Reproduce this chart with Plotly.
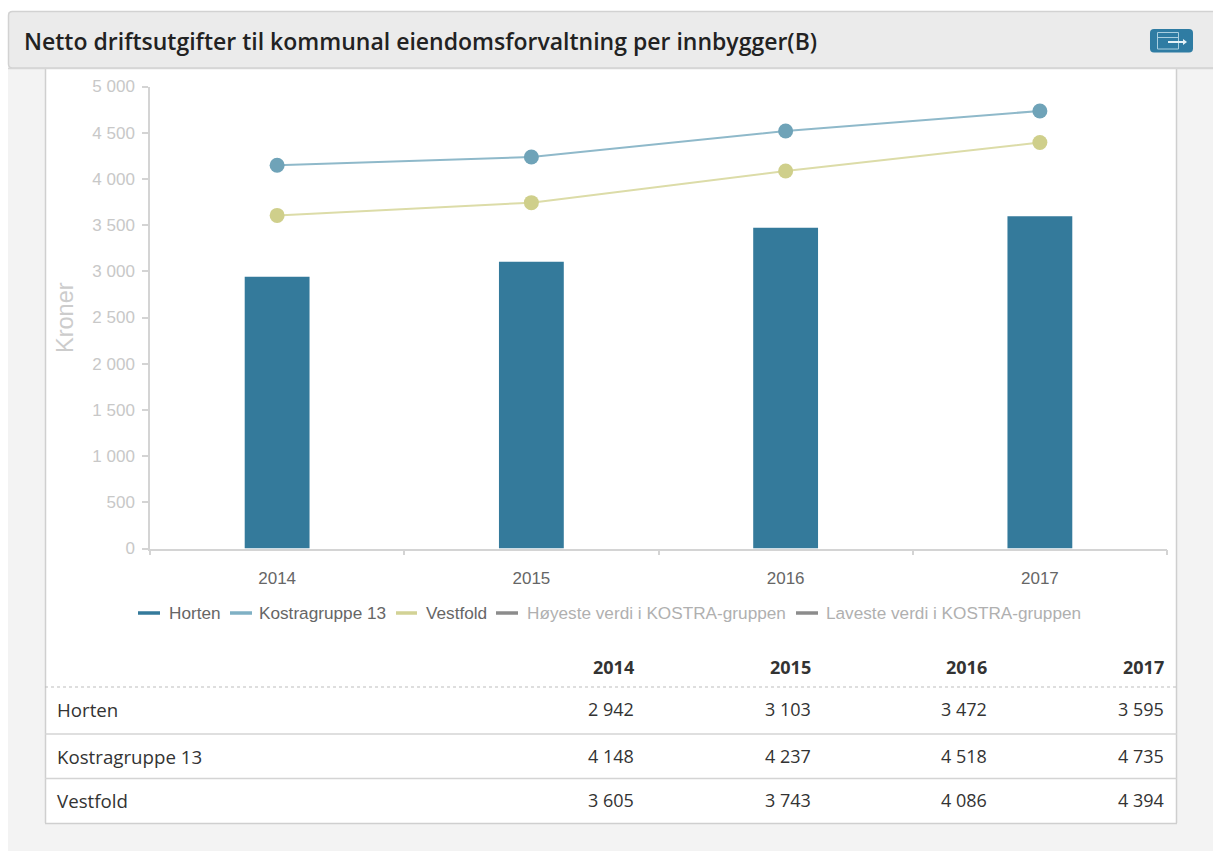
import plotly.graph_objects as go

W, H = 1213, 851
title = "Netto driftsutgifter til kommunal eiendomsforvaltning per innbygger(B)"
years = ["2014", "2015", "2016", "2017"]
horten = [2942, 3103, 3472, 3595]
kostra = [4148, 4237, 4518, 4735]
vestfold = [3605, 3743, 4086, 4394]
row_names = ["Horten", "Kostragruppe 13", "Vestfold"]
legend_names = ["Horten", "Kostragruppe 13", "Vestfold",
                "Høyeste verdi i KOSTRA-gruppen", "Laveste verdi i KOSTRA-gruppen"]
legend_colors = ["#347a9b", "#7fb0c4", "#d2d295", "#8c8c8c", "#8c8c8c"]
legend_text = ["#666666", "#666666", "#666666", "#b0b0b0", "#b0b0b0"]
legend_line_x = [(138, 160), (230, 252), (396, 417), (496, 518), (796, 818)]
legend_text_x = [167, 257, 424, 525, 824]
col_right = [636, 813, 989, 1166]
row_y = [709, 756, 800]


def X(p):
    return p / W


def Y(p):
    return 1 - p / H


def fmt(v):
    return f"{v:,}".replace(",", " ")


shapes = []


def rect(x0, y0, x1, y1, fill=None, line=None, lw=0, dash=None, layer="below"):
    shapes.append(dict(type="rect", xref="paper", yref="paper", x0=X(x0), x1=X(x1), y0=Y(y0), y1=Y(y1),
                       fillcolor=fill or "rgba(0,0,0,0)", layer=layer,
                       line=dict(color=line or "rgba(0,0,0,0)", width=lw, dash=dash or "solid")))


def hline(x0, x1, y, color, lw=1.5, dash="solid", layer="below"):
    shapes.append(dict(type="line", xref="paper", yref="paper", x0=X(x0), x1=X(x1), y0=Y(y), y1=Y(y),
                       layer=layer, line=dict(color=color, width=lw, dash=dash)))


def vline(x, y0, y1, color, lw=1.5, layer="below"):
    shapes.append(dict(type="line", xref="paper", yref="paper", x0=X(x), x1=X(x), y0=Y(y0), y1=Y(y1),
                       layer=layer, line=dict(color=color, width=lw)))


def rounded(x0, y0, x1, y1, r, fill, line="rgba(0,0,0,0)", lw=0, layer="below"):
    k = lambda a, b: f"{X(a):.5f},{Y(b):.5f}"
    path = (f"M{k(x0 + r, y0)} L{k(x1 - r, y0)} Q{k(x1, y0)} {k(x1, y0 + r)} L{k(x1, y1 - r)} "
            f"Q{k(x1, y1)} {k(x1 - r, y1)} L{k(x0 + r, y1)} Q{k(x0, y1)} {k(x0, y1 - r)} "
            f"L{k(x0, y0 + r)} Q{k(x0, y0)} {k(x0 + r, y0)} Z")
    shapes.append(dict(type="path", xref="paper", yref="paper", path=path, fillcolor=fill,
                       layer=layer, line=dict(color=line, width=lw)))


# page panel, card, header
rect(8, 12, W + 5, H + 5, fill="#f3f3f3")
rect(45, 68, 1177, 823, fill="#ffffff")
vline(45.5, 68, 823, "#cfcfcf", 1.5)
vline(1176.5, 68, 823, "#cfcfcf", 1.5)
hline(45, 1177, 823.5, "#cfcfcf", 1.5)
rounded(8.5, 11.5, W + 10, 68, 4, "#ebebeb", "#d2d2d2", 1.5)
hline(8, W, 68.5, "#d6d6d6", 1.5)

# table rules
hline(45, 1177, 687, "#bdbdbd", 1, "dot")
hline(45, 1177, 734, "#d4d4d4", 1.5)
hline(45, 1177, 778.5, "#d4d4d4", 1.5)

# export button
rounded(1150, 29, 1193, 52.5, 4, "#2f7ca3")
rect(1157.5, 32.5, 1178.5, 49, line="#a9cfe0", lw=1)
hline(1157.5, 1178.5, 37.5, "#a9cfe0", 1)
hline(1168, 1185, 42, "#e6f2f7", 2)
shapes.append(dict(type="path", xref="paper", yref="paper", fillcolor="#e6f2f7", line=dict(width=0),
                   path=f"M{X(1183):.5f},{Y(39):.5f} L{X(1187):.5f},{Y(42):.5f} L{X(1183):.5f},{Y(45):.5f} Z"))

# legend
for (a, b), c in zip(legend_line_x, legend_colors):
    hline(a, b, 613, c, 3.5)

ann = []


def text(s, x, y, size, color, family, anchor="left", weight=None, **kw):
    f = dict(size=size, color=color, family=family)
    if weight:
        f["weight"] = weight
    ann.append(dict(text=s, xref="paper", yref="paper", x=X(x), y=Y(y), showarrow=False, xanchor=anchor,
                    yanchor="middle", font=f, **kw))


OS = "Open Sans"
LS = "Liberation Sans"
text(title, 22, 41, 23, "#222222", OS, weight=600)
text("Kroner", 65, 318, 23.5, "#cccccc", LS, "center", textangle=-90)
for name, x, c in zip(legend_names, legend_text_x, legend_text):
    text(name, x, 613, 17.2, c, LS)
for y, x in zip(years, col_right):
    text(y, x, 667, 18, "#333333", OS, "right", weight=700)
for name, vals, y in zip(row_names, [horten, kostra, vestfold], row_y):
    text(name, 55, y, 18.7, "#333333", OS)
    for v, x in zip(vals, col_right):
        text(fmt(v), x, y, 18, "#333333", OS, "right")

fig = go.Figure()
fig.add_bar(x=years, y=horten, name="Horten", marker=dict(color="#347a9b", line=dict(width=0)), width=0.255)
fig.add_scatter(x=years, y=kostra, name="Kostragruppe 13", mode="lines+markers",
                line=dict(color="#8fb9ca", width=2), marker=dict(color="#6fa3b8", size=15))
fig.add_scatter(x=years, y=vestfold, name="Vestfold", mode="lines+markers",
                line=dict(color="#dcdca8", width=2), marker=dict(color="#cfcf8b", size=15))

fig.update_layout(
    width=W, height=H, margin=dict(l=0, r=0, t=0, b=0, autoexpand=False), autosize=False,
    paper_bgcolor="#ffffff", plot_bgcolor="rgba(0,0,0,0)", showlegend=False,
    separators=". ", shapes=shapes, annotations=ann,
    xaxis=dict(domain=[X(150), X(1167)], type="category", range=[-0.5, 3.5], tickson="boundaries",
               ticks="outside", ticklen=5, tickcolor="#d4d4d4", tickwidth=1.5, showline=True,
               linecolor="#d4d4d4", linewidth=1.5, showgrid=False, zeroline=False,
               tickfont=dict(family=LS, size=17, color="#666666"), ticklabelstandoff=13),
    yaxis=dict(domain=[Y(548.5), Y(86.5)], range=[0, 5000], dtick=500, tick0=0, tickformat=",d",
               ticks="outside", ticklen=6, tickcolor="#d4d4d4", tickwidth=1.5, showline=True,
               linecolor="#d4d4d4", linewidth=1.5, showgrid=False, zeroline=False,
               tickfont=dict(family=LS, size=17, color="#c8c8c8"), ticklabelstandoff=4),
)
fig.write_html("out.html", config={"displayModeBar": False},
               post_script="document.body.style.margin='0';document.body.style.overflow='hidden';")
